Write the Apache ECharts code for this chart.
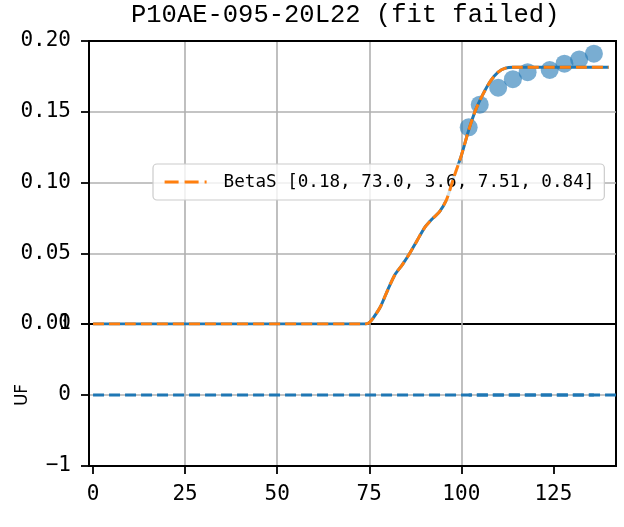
<!DOCTYPE html>
<html>
<head>
<meta charset="utf-8">
<script src="https://cdn.jsdelivr.net/npm/echarts@6/dist/echarts.min.js"></script>
<style>html,body{margin:0;padding:0;background:#fff}#c{width:624px;height:527px}</style>
</head>
<body>
<div id="c"></div>
<script>
var titleText = 'P10AE-095-20L22 (fit failed)';
var fitName = 'BetaS [0.18, 73.0, 3.6, 7.51, 0.84]';
var xTicks = [0, 25, 50, 75, 100, 125];
var topYTicks = [0, 0.05, 0.10, 0.15, 0.20];
var botYTicks = [-1, 0, 1];
// measured points
var pointX = [102, 105, 110, 114, 118, 124, 128, 132, 136];
var pointY = [0.139, 0.155, 0.167, 0.173, 0.178, 0.1795, 0.184, 0.187, 0.191];
// curve (data line and BetaS fit coincide)
var curveX = [0, 74, 75, 76, 78, 80, 82, 84, 86, 88, 90, 92, 94, 96, 98, 100, 102, 104, 106, 108, 110, 112, 114, 140];
var curveY = [0, 0, 0.001, 0.004, 0.012, 0.024, 0.035, 0.042, 0.050, 0.059, 0.068, 0.074, 0.079, 0.088, 0.104, 0.119, 0.137, 0.152, 0.163, 0.172, 0.178, 0.1808, 0.1814, 0.1814];
// UF residual lines
var ufLineX = [0, 142];
var ufLineY = [0, 0];
var ufPointY = [0, 0, 0, 0, 0, 0, 0, 0, 0];

function zip(a, b) { return a.map(function (v, i) { return [v, b[i]]; }); }

var XMIN = -1.1, XMAX = 142;
var monoFont = 'DejaVu Sans Mono';
var gridLine = { show: true, showMinLine: false, showMaxLine: false, lineStyle: { color: '#b0b0b0', width: 1.6 } };
var blackLine = { show: true, onZero: false, lineStyle: { color: '#000', width: 2 } };
var blackTick = { show: true, length: 8, lineStyle: { color: '#000', width: 1.8 } };

var chart = echarts.init(document.getElementById('c'), null, { renderer: 'canvas' });
chart.setOption({
  animation: false,
  backgroundColor: '#fff',
  title: {
    text: titleText, left: 131, top: 2, padding: 0,
    textStyle: { fontFamily: 'Liberation Mono', fontSize: 25.5, fontWeight: 'normal', color: '#000' }
  },
  legend: {
    data: [{ name: fitName, itemStyle: { opacity: 0 }, lineStyle: { width: 3.2, type: [14, 6] } }],
    left: 153, top: 164, orient: 'horizontal',
    padding: [9, 10, 9, 10], itemWidth: 42, itemHeight: 14,
    backgroundColor: 'rgba(255,255,255,0.8)', borderColor: '#cccccc', borderWidth: 1.2, borderRadius: 4,
    textStyle: { fontFamily: monoFont, fontSize: 17.6, color: '#000', padding: [0, 0, 0, 12] }
  },
  grid: [
    { left: 89, right: 8, top: 41, height: 283, show: true, borderColor: '#000', borderWidth: 2, backgroundColor: 'transparent' },
    { left: 89, right: 8, top: 324, height: 142, show: true, borderColor: '#000', borderWidth: 2, backgroundColor: 'transparent' }
  ],
  xAxis: [
    { type: 'value', gridIndex: 0, min: XMIN, max: XMAX, position: 'top',
      axisLine: blackLine, axisTick: { show: false, customValues: xTicks },
      axisLabel: { show: false, customValues: xTicks }, splitLine: gridLine },
    { type: 'value', gridIndex: 1, min: XMIN, max: XMAX,
      axisLine: blackLine,
      axisTick: { show: true, customValues: xTicks, length: 8, lineStyle: { color: '#000', width: 1.8 } },
      axisLabel: { customValues: xTicks, margin: 18, fontFamily: monoFont, fontSize: 21, color: '#000' },
      splitLine: gridLine }
  ],
  yAxis: [
    { type: 'value', gridIndex: 0, min: 0, max: 0.2, interval: 0.05,
      axisLine: blackLine, axisTick: blackTick,
      axisLabel: { margin: 18, fontFamily: monoFont, fontSize: 21, color: '#000',
        formatter: function (v) { return v.toFixed(2); } },
      splitLine: gridLine },
    { type: 'value', gridIndex: 1, min: -1, max: 1, interval: 1,
      name: 'UF', nameLocation: 'middle', nameGap: 58, nameRotate: 90,
      nameTextStyle: { fontFamily: 'DejaVu Sans', fontSize: 17, color: '#000' },
      axisLine: blackLine, axisTick: blackTick,
      axisLabel: { margin: 18, fontFamily: monoFont, fontSize: 21, color: '#000',
        formatter: function (v) { return v < 0 ? '\u2212' + Math.abs(v) : String(v); } },
      splitLine: gridLine }
  ],
  series: [
    { type: 'scatter', name: 'data', xAxisIndex: 0, yAxisIndex: 0, data: zip(pointX, pointY),
      symbolSize: 18, itemStyle: { color: '#1f77b4', opacity: 0.6 }, z: 2 },
    { type: 'line', name: 'line', xAxisIndex: 0, yAxisIndex: 0, data: zip(curveX, curveY),
      symbol: 'none', smooth: 0.25, lineStyle: { color: '#1f77b4', width: 3 }, z: 3 },
    { type: 'line', name: fitName, xAxisIndex: 0, yAxisIndex: 0, data: zip(curveX, curveY),
      symbol: 'none', smooth: 0.25, itemStyle: { color: '#ff7f0e' },
      lineStyle: { color: '#ff7f0e', width: 3, type: [11, 5] }, z: 4 },
    { type: 'line', name: 'uf1', xAxisIndex: 1, yAxisIndex: 1, data: zip(ufLineX, ufLineY),
      symbol: 'none', lineStyle: { color: '#1f77b4', width: 3, type: [11, 5] }, z: 3 },
    { type: 'line', name: 'uf2', xAxisIndex: 1, yAxisIndex: 1, data: zip(pointX, ufPointY),
      symbol: 'none', lineStyle: { color: '#1f77b4', width: 3, type: [11, 5], dashOffset: 8 }, z: 3 }
  ]
});
</script>
</body>
</html>
